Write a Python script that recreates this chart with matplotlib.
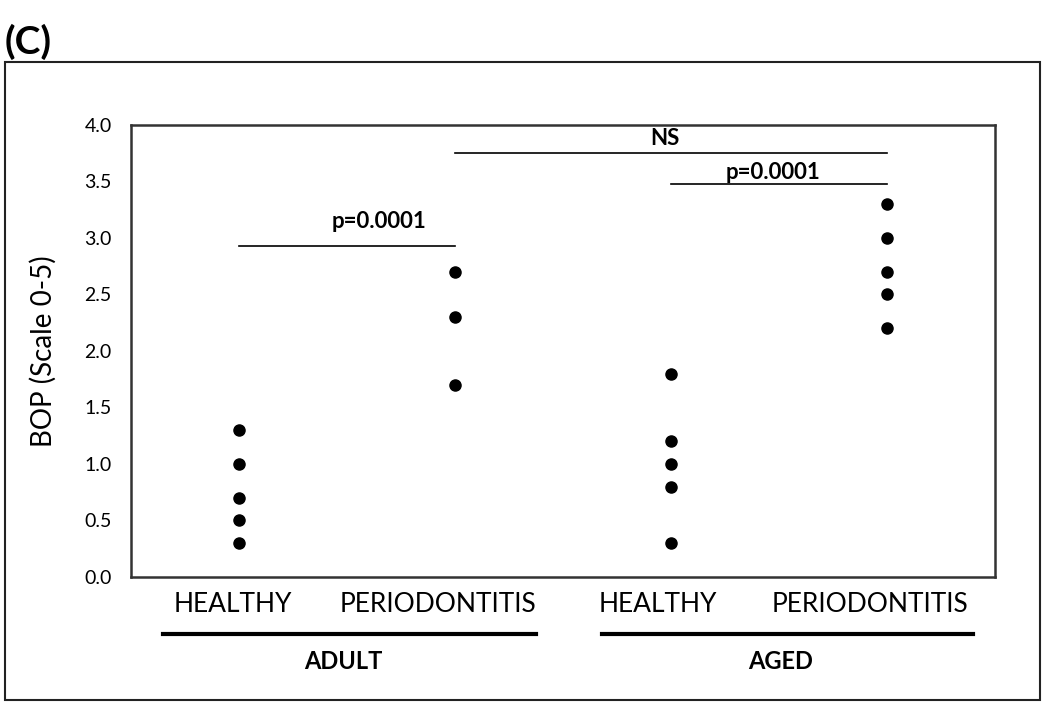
import matplotlib
matplotlib.use('Agg')
from matplotlib import pyplot as plt
from matplotlib.patches import Rectangle
from matplotlib.lines import Line2D

plt.rcParams['font.family'] = ['Lato', 'DejaVu Sans']

# data
categories = ['HEALTHY', 'PERIODONTITIS', 'HEALTHY', 'PERIODONTITIS']
groups = ['ADULT', 'AGED']
adult_healthy = [0.3, 0.5, 0.7, 1.0, 1.3]
adult_perio = [1.7, 2.3, 2.7]
aged_healthy = [0.3, 0.8, 1.0, 1.2, 1.8]
aged_perio = [2.2, 2.5, 2.7, 3.0, 3.3]
series = [adult_healthy, adult_perio, aged_healthy, aged_perio]

# significance brackets: (x start, x end, line height, text, text x, text y)
brackets = [
    (1, 2, 2.93, 'p=0.0001', 1.65, 3.15),
    (2, 4, 3.75, 'NS', 2.97, 3.88),
    (3, 4, 3.48, 'p=0.0001', 3.47, 3.58),
]

fig = plt.figure(figsize=(10.5, 7.05), dpi=100)
ax = fig.add_axes([0.1248, 0.1816, 0.8228, 0.6411])

for i, vals in enumerate(series):
    ax.plot([i + 1] * len(vals), vals, 'o', color='black', markersize=8)

for x0, x1, y, txt, tx, ty in brackets:
    ax.plot([x0, x1], [y, y], color='black', linewidth=1.2)
    ax.text(tx, ty, txt, ha='center', va='center', fontsize=16, fontweight='bold')

ax.set_xlim(0.5, 4.5)
ax.set_ylim(0, 4.0)
ax.set_yticks([0.0, 0.5, 1.0, 1.5, 2.0, 2.5, 3.0, 3.5, 4.0])
ax.set_yticklabels(['%.1f' % v for v in ax.get_yticks()])
# category labels sit slightly left of the dot columns in the original
ax.set_xticks([0.97, 1.92, 2.94, 3.92])
ax.set_xticklabels(categories)
ax.tick_params(axis='y', length=0, pad=14, labelsize=14)
ax.tick_params(axis='x', length=0, pad=11, labelsize=19)
for sp in ax.spines.values():
    sp.set_linewidth(1.8)
    sp.set_color('#333333')
ax.set_ylabel('BOP (Scale 0-5)', fontsize=20, labelpad=20)

# group lines under the categories
trans = ax.get_xaxis_transform()
group_lines = [(0.648, 2.373), (2.679, 4.40)]
for (x0, x1), g in zip(group_lines, groups):
    ax.add_line(Line2D([x0, x1], [-0.126, -0.126], color='black', linewidth=3,
                       transform=trans, clip_on=False))
    ax.text((x0 + x1) / 2 - 0.03, -0.188, g, transform=trans, ha='center', va='center',
            fontsize=17, fontweight='bold')

# outer frame and panel letter
fig.patches.append(Rectangle((0.005, 0.007), 0.985, 0.905, transform=fig.transFigure,
                             fill=False, edgecolor='#222222', linewidth=1.5))
fig.text(0.004, 0.941, '(C)', fontsize=28, fontweight='bold', va='center', ha='left')

plt.savefig('out.png', dpi=100)
